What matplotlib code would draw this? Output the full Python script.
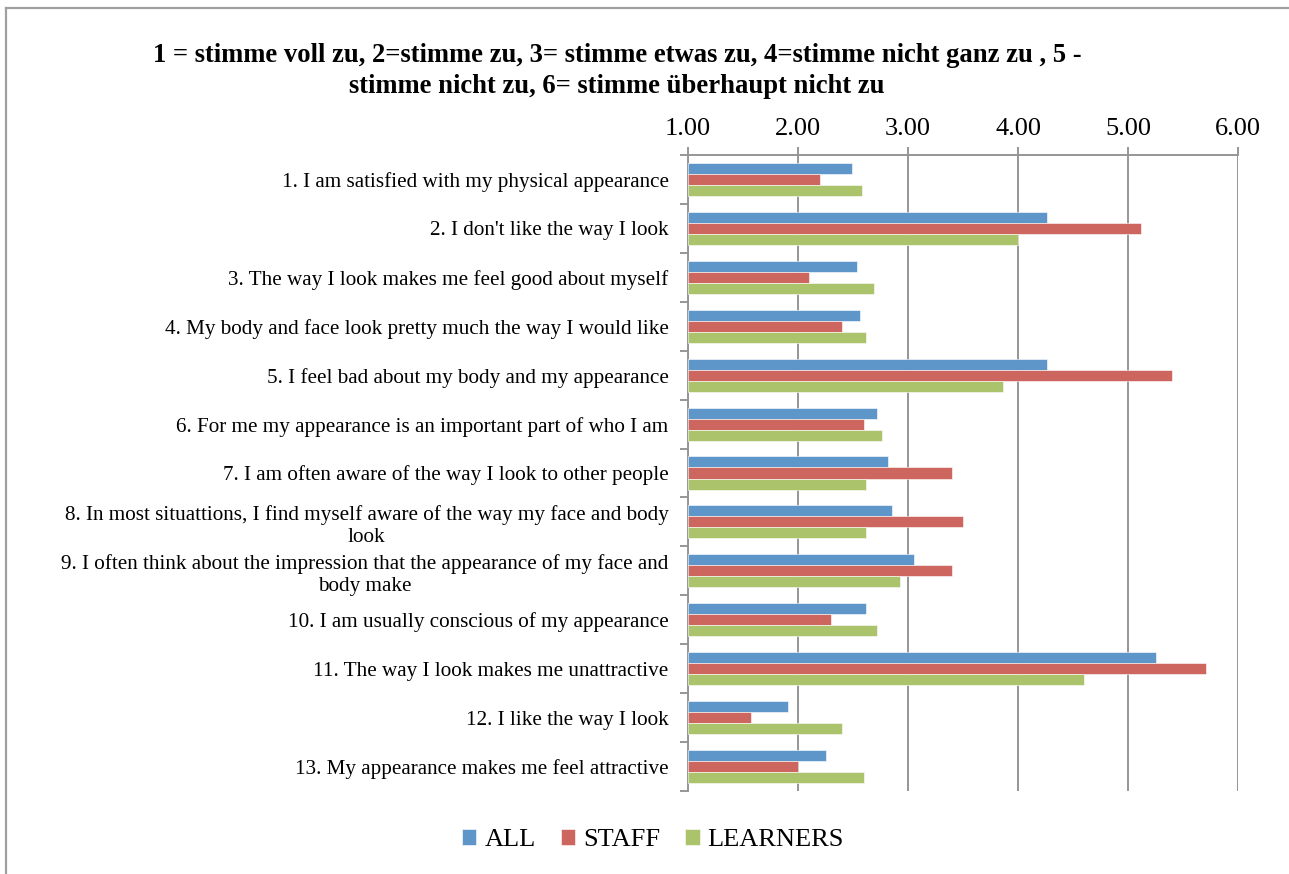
import matplotlib
matplotlib.use("Agg")
import matplotlib.pyplot as plt
from matplotlib.lines import Line2D
import numpy as np

plt.rcParams['font.family'] = ['Liberation Serif', 'DejaVu Serif']

title = ("1 = stimme voll zu, 2=stimme zu, 3= stimme etwas zu, 4=stimme nicht ganz zu , 5 -\n"
         "stimme nicht zu, 6= stimme überhaupt nicht zu")

statements = [
    "1. I am satisfied with my physical appearance",
    "2. I don't like the way I look",
    "3. The way I look makes me feel good about myself",
    "4. My body and face look pretty much the way I would like",
    "5. I feel bad about my body and my appearance",
    "6. For me my appearance is an important part of who I am",
    "7. I am often aware of the way I look to other people",
    "8. In most situattions, I find myself aware of the way my face and body\nlook",
    "9. I often think about the impression that the appearance of my face and\nbody make",
    "10. I am usually conscious of my appearance",
    "11. The way I look makes me unattractive",
    "12. I like the way I look",
    "13. My appearance makes me feel attractive",
]

all_scores = [2.49, 4.26, 2.54, 2.56, 4.26, 2.72, 2.82, 2.85, 3.05, 2.62, 5.25, 1.91, 2.25]
staff_scores = [2.20, 5.12, 2.10, 2.40, 5.40, 2.60, 3.40, 3.50, 3.40, 2.30, 5.71, 1.57, 2.00]
learner_scores = [2.58, 4.00, 2.69, 2.62, 3.86, 2.76, 2.62, 2.62, 2.93, 2.72, 4.60, 2.40, 2.60]

series_names = ["ALL", "STAFF", "LEARNERS"]
series_colors = ["#5F96CA", "#CD665F", "#ABC46C"]

x_ticks = [1.0, 2.0, 3.0, 4.0, 5.0, 6.0]

W, H = 1289, 874
fig = plt.figure(figsize=(W / 100, H / 100), dpi=100)
fig.patch.set_facecolor("white")

left, right, top, bottom = 688, 1238, 155, 791
ax = fig.add_axes([left / W, 1 - bottom / H, (right - left) / W, (bottom - top) / H])

n = len(statements)
pos = np.arange(n)
bar_h = 0.225
series = [all_scores, staff_scores, learner_scores]
for k, (vals, name, col) in enumerate(zip(series, series_names, series_colors)):
    offs = (k - 1) * bar_h
    vals = np.asarray(vals)
    ax.barh(pos + offs, vals - 1.0, left=1.0, height=bar_h, color=col,
            edgecolor="white", linewidth=0.4, label=name, zorder=3)

ax.set_xlim(1.0, 6.0)
ax.set_ylim(n - 0.5, -0.5)

grid_col = "#969696"
ax.xaxis.tick_top()
ax.set_xticks(x_ticks)
ax.set_xticklabels([f"{t:.2f}" for t in x_ticks], fontsize=19)
ax.tick_params(axis="x", direction="out", length=6, width=1.4, color=grid_col, pad=5)
ax.grid(axis="x", color=grid_col, linewidth=1.4, zorder=1)

ax.set_yticks(pos)
ax.set_yticklabels(statements, fontsize=15.2, linespacing=1.22, multialignment="center")
ax.tick_params(axis="y", length=0, pad=14)
ax.set_yticks(np.arange(n + 1) - 0.5, minor=True)
ax.tick_params(axis="y", which="minor", direction="out", length=6, width=1.4, color=grid_col)

for s in ["right", "bottom"]:
    ax.spines[s].set_visible(False)
for s in ["left", "top"]:
    ax.spines[s].set_color(grid_col)
    ax.spines[s].set_linewidth(1.4)

fig.text(617 / W, 1 - 71 / H, title, ha="center", va="center", fontsize=19.2,
         fontweight="bold", linespacing=1.32)

ax.legend(ncol=3, loc="center", bbox_to_anchor=(653 / W, 1 - 840 / H),
          bbox_transform=fig.transFigure, frameon=False, fontsize=19,
          handlelength=0.55, handleheight=0.55, handletextpad=0.3,
          columnspacing=0.95)

frame_col = "#A0A0A0"
fig.add_artist(Line2D([6 / W, 1.0], [1 - 8 / H, 1 - 8 / H], color=frame_col, linewidth=1.6,
                      transform=fig.transFigure))
fig.add_artist(Line2D([6 / W, 6 / W], [0.0, 1 - 8 / H], color=frame_col, linewidth=1.6,
                      transform=fig.transFigure))

fig.savefig("out.png", dpi=100)
